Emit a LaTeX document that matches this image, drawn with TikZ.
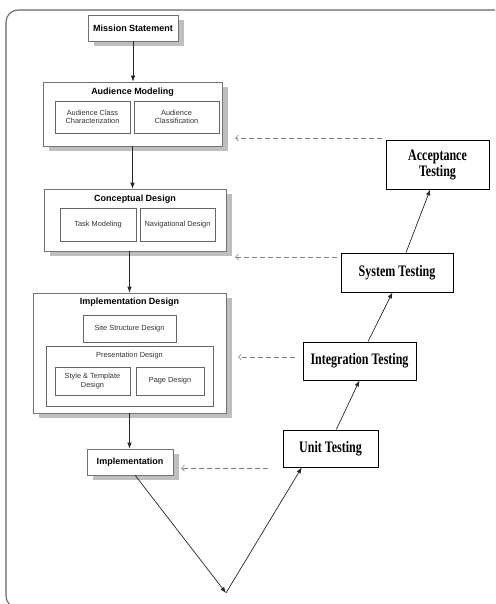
\documentclass[tikz,border=0pt]{standalone}
\usepackage{fontspec}
\setmainfont{Liberation Serif}
\setsansfont{Liberation Sans}
\newfontfamily\testfont[FakeStretch=0.75]{Liberation Serif}
\usetikzlibrary{arrows.meta,calc,shadows}

\tikzset{
  phase/.style={draw=black!55, fill=white, line width=0.7pt, inner sep=0pt,
    drop shadow={shadow xshift=6pt, shadow yshift=-5pt, fill=black!25, opacity=1},
    font=\sffamily\bfseries\fontsize{9}{10}\selectfont},
  phasetitle/.style={inner sep=0pt, font=\sffamily\bfseries\fontsize{9}{10}\selectfont},
  subbox/.style={draw=black!60, fill=white, line width=0.6pt, inner sep=0pt, align=center,
    text=black!80, font=\sffamily\fontsize{7.4}{8.6}\selectfont},
  sublabel/.style={inner sep=0pt, text=black!80, font=\sffamily\fontsize{7.4}{8.6}\selectfont},
  testbox/.style={draw=black, fill=white, line width=0.8pt, inner sep=0pt, align=center,
    font=\testfont\bfseries\fontsize{16}{16}\selectfont},
  flow/.style={-{Latex[length=6pt,width=4.5pt]}, line width=0.7pt, black!85},
  feedback/.style={-{Straight Barb[length=3pt,width=6pt]}, dash pattern=on 5pt off 3pt,
    line width=0.7pt, black!50},
  frame/.style={draw=black!60, line width=1.1pt, rounded corners=12pt}
}

\begin{document}
\begin{tikzpicture}[x=1pt, y=-1pt]
\useasboundingbox (0,0) rectangle (495,604);

% Outer frame
\begin{scope}
\clip (0,0) rectangle (495,604);
\draw[frame] (6,10) rectangle (540,608);
\end{scope}

% Design phases (left)
\node[phase, minimum width=90pt, minimum height=26pt] (mission) at (133,28) {Mission Statement};

\node[phase, minimum width=179pt, minimum height=64pt] (aud) at (132.5,114) {};
\node[phasetitle] (audT) at (132.5,92) {Audience Modeling};
\node[subbox, minimum width=75pt, minimum height=32pt] (audA) at (92.5,117) {Audience Class\\Characterization};
\node[subbox, minimum width=85pt, minimum height=32pt] (audB) at (176.5,117) {Audience\\Classification};

\node[phase, minimum width=182pt, minimum height=62pt] (con) at (135,220) {};
\node[phasetitle] (conT) at (135,199) {Conceptual Design};
\node[subbox, minimum width=76pt, minimum height=33pt] (conA) at (98,224.5) {Task Modeling};
\node[subbox, minimum width=75pt, minimum height=33pt] (conB) at (177.5,224.5) {Navigational Design};

\node[phase, minimum width=193pt, minimum height=120pt] (des) at (129.5,353) {};
\node[phasetitle] (desT) at (129.5,302) {Implementation Design};
\node[subbox, minimum width=93pt, minimum height=27pt] (site) at (129.5,328.5) {Site Structure Design};
\node[subbox, minimum width=167pt, minimum height=60pt] (pres) at (129.5,376) {};
\node[sublabel] (presT) at (129.5,356) {Presentation Design};
\node[subbox, minimum width=75pt, minimum height=28pt] (style) at (92.5,381) {Style \& Template\\Design};
\node[subbox, minimum width=68pt, minimum height=28pt] (page) at (170,381) {Page Design};

\node[phase, minimum width=86pt, minimum height=26pt] (impl) at (130,462) {Implementation};

% Testing phases (right)
\node[testbox, minimum width=95pt, minimum height=37pt] (unit) at (330.5,448.5) {Unit Testing};
\node[testbox, minimum width=113pt, minimum height=38pt] (integ) at (359.5,361) {Integration Testing};
\node[testbox, minimum width=112pt, minimum height=39pt] (sys) at (397,272.5) {System Testing};
\node[testbox, minimum width=103pt, minimum height=49pt] (acc) at (437.5,164.5) {Acceptance\\Testing};

% Flow down the left side
\draw[flow] (mission.south) -- (mission.south |- aud.north);
\draw[flow] (aud.south) -- (aud.south |- con.north);
\draw[flow] (con.south -| des) -- (des.north);
\draw[flow] (des.south) -- (des.south |- impl.north);

% V shape
\coordinate (vtx) at (226,593);
\draw[flow] ($(impl.south west)!0.56!(impl.south east)$) -- (vtx);
\draw[flow] (vtx) -- ($(unit.south west)!0.2!(unit.south east)$);
\draw[flow] ($(unit.north west)!0.56!(unit.north east)$) -- (integ.south);
\draw[flow] ($(integ.north west)!0.575!(integ.north east)$) -- ($(sys.south west)!0.46!(sys.south east)$);
\draw[flow] ($(sys.north west)!0.58!(sys.north east)$) -- ($(acc.south west)!0.43!(acc.south east)$);

% Feedback to the design phases
\coordinate (fbA) at (235,138);
\coordinate (fbB) at (235,257);
\coordinate (fbC) at (238,357);
\coordinate (fbD) at (181,468);
\draw[feedback] ($(fbA -| acc.west)+(-4,0)$) -- (fbA);
\draw[feedback] ($(fbB -| sys.west)+(-4,0)$) -- (fbB);
\draw[feedback] ($(fbC -| integ.west)+(-8,0)$) -- (fbC);
\draw[feedback] ($(fbD -| unit.west)+(-15,0)$) -- (fbD);
\end{tikzpicture}
\end{document}
